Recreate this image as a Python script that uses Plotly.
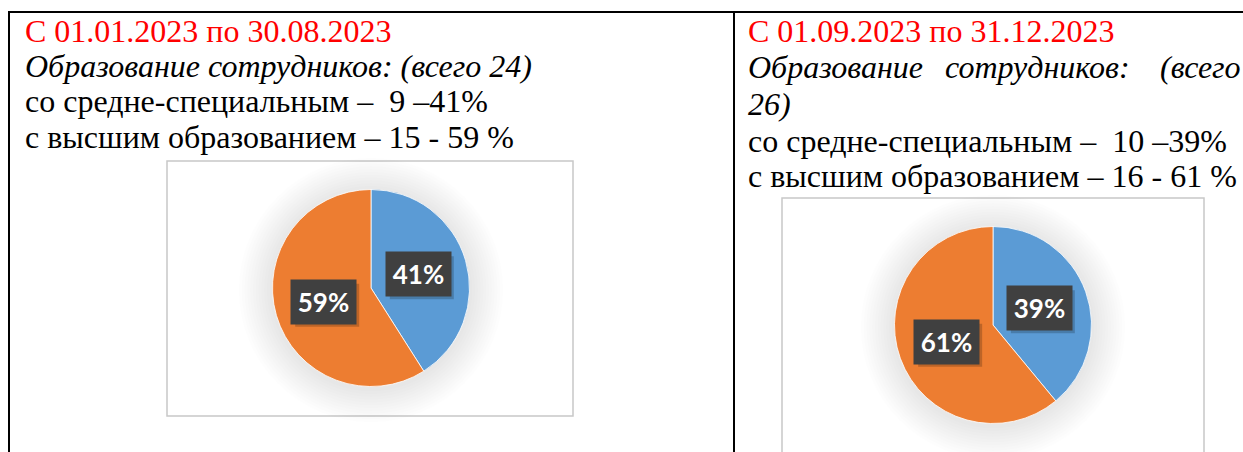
import math
import plotly.graph_objects as go

# ---- data ----
periods = ["С 01.01.2023 по 30.08.2023", "С 01.09.2023 по 31.12.2023"]
totals = [24, 26]
categories = ["со средне-специальным", "с высшим образованием"]
counts_left = [9, 15]
counts_right = [10, 16]
pct_left = [41, 59]
pct_right = [39, 61]
slice_colors = ["#5B9BD5", "#ED7D31"]

W, H = 1243, 452


def px(x):
    return x / W


def py(y):
    return 1 - y / H


fig = go.Figure()
shapes = []
annotations = []

# table borders
shapes.append(dict(type="line", xref="paper", yref="paper", x0=px(8), x1=px(1243), y0=py(12), y1=py(12),
                   line=dict(color="black", width=2)))
shapes.append(dict(type="line", xref="paper", yref="paper", x0=px(9), x1=px(9), y0=py(12), y1=py(460),
                   line=dict(color="black", width=2)))
shapes.append(dict(type="line", xref="paper", yref="paper", x0=px(734), x1=px(734), y0=py(12), y1=py(460),
                   line=dict(color="black", width=2)))

# chart boxes
boxes = [(167, 161, 573, 416), (782, 198, 1204, 470)]
for (x0, y0, x1, y1) in boxes:
    shapes.append(dict(type="rect", xref="paper", yref="paper", x0=px(x0), x1=px(x1), y0=py(y1), y1=py(y0),
                       line=dict(color="#C8C8C8", width=1.5), fillcolor="white", layer="below"))

pies = [
    dict(cx=371, cy=288, r=98.5, pct=pct_left),
    dict(cx=993, cy=325, r=98.5, pct=pct_right),
]

for i, p in enumerate(pies):
    cx, cy, r = p["cx"], p["cy"], p["r"]
    # soft glow
    for k in range(12):
        rr = r + 3 + k * 2.8
        shapes.append(dict(type="circle", xref="paper", yref="paper",
                           x0=px(cx - rr), x1=px(cx + rr), y0=py(cy + 2 + rr), y1=py(cy + 2 - rr),
                           line=dict(width=0), fillcolor="rgba(0,0,0,0.009)", layer="below"))
    fig.add_trace(go.Pie(
        values=p["pct"], labels=categories, sort=False, direction="clockwise", rotation=0,
        marker=dict(colors=slice_colors, line=dict(color="white", width=0.8)),
        textinfo="none", hoverinfo="label+percent", showlegend=False,
        domain=dict(x=[px(cx - r), px(cx + r)], y=[py(cy + r), py(cy - r)]),
    ))
    # data labels at half radius along slice mid-angle
    total = sum(p["pct"])
    start = 0.0
    for v in p["pct"]:
        ang = start + v / total * 180.0
        start += v / total * 360.0
        a = math.radians(ang)
        lx = cx + 0.5 * r * math.sin(a)
        ly = cy - 0.5 * r * math.cos(a)
        bw, bh = 63, 42
        shapes.append(dict(type="rect", xref="paper", yref="paper",
                           x0=px(lx - bw / 2 + 3), x1=px(lx + bw / 2 + 4),
                           y0=py(ly + bh / 2 + 4), y1=py(ly - bh / 2 + 3),
                           line=dict(width=0), fillcolor="rgba(0,0,0,0.2)", layer="above"))
        annotations.append(dict(xref="paper", yref="paper", x=px(lx), y=py(ly), xanchor="center", yanchor="middle",
                                text=f"<b>{v}%</b>", showarrow=False, width=bw, height=bh,
                                bgcolor="#404040", font=dict(family="Lato", size=26, color="white")))

# ---- text ----
FS = 32
serif = "Liberation Serif"


def txt(x, baseline, s, color="black", italic=False, anchor="left"):
    if italic:
        s = f"<i>{s}</i>"
    annotations.append(dict(xref="paper", yref="paper", x=px(x), y=py(baseline - 0.34 * FS),
                            xanchor=anchor, yanchor="middle", text=s, showarrow=False,
                            font=dict(family=serif, size=FS, color=color)))


# left cell
txt(23, 42, periods[0], color="#FF0000")
txt(23, 77, f"Образование сотрудников: (всего {totals[0]})", italic=True)
txt(23, 112, f"{categories[0]} –  {counts_left[0]} –{pct_left[0]}%")
txt(23, 148, f"{categories[1]} – {counts_left[1]} - {pct_left[1]} %")

# right cell (justified second line)
txt(746, 42, periods[1], color="#FF0000")
txt(746, 78, "Образование", italic=True)
txt(1037, 78, "сотрудников:", italic=True, anchor="center")
txt(1158, 78, "(всего", italic=True)
txt(746, 115, f"{totals[1]})", italic=True)
txt(746, 152, f"{categories[0]} –  {counts_right[0]} –{pct_right[0]}%")
txt(746, 187, f"{categories[1]} – {counts_right[1]} - {pct_right[1]} %")

fig.update_layout(
    width=W, height=H, margin=dict(l=0, r=0, t=0, b=0),
    paper_bgcolor="white", plot_bgcolor="white", showlegend=False,
    shapes=shapes, annotations=annotations,
)

fig.write_html("out.html", config={"displayModeBar": False},
               post_script="document.body.style.margin='0';document.body.style.overflow='hidden';")
